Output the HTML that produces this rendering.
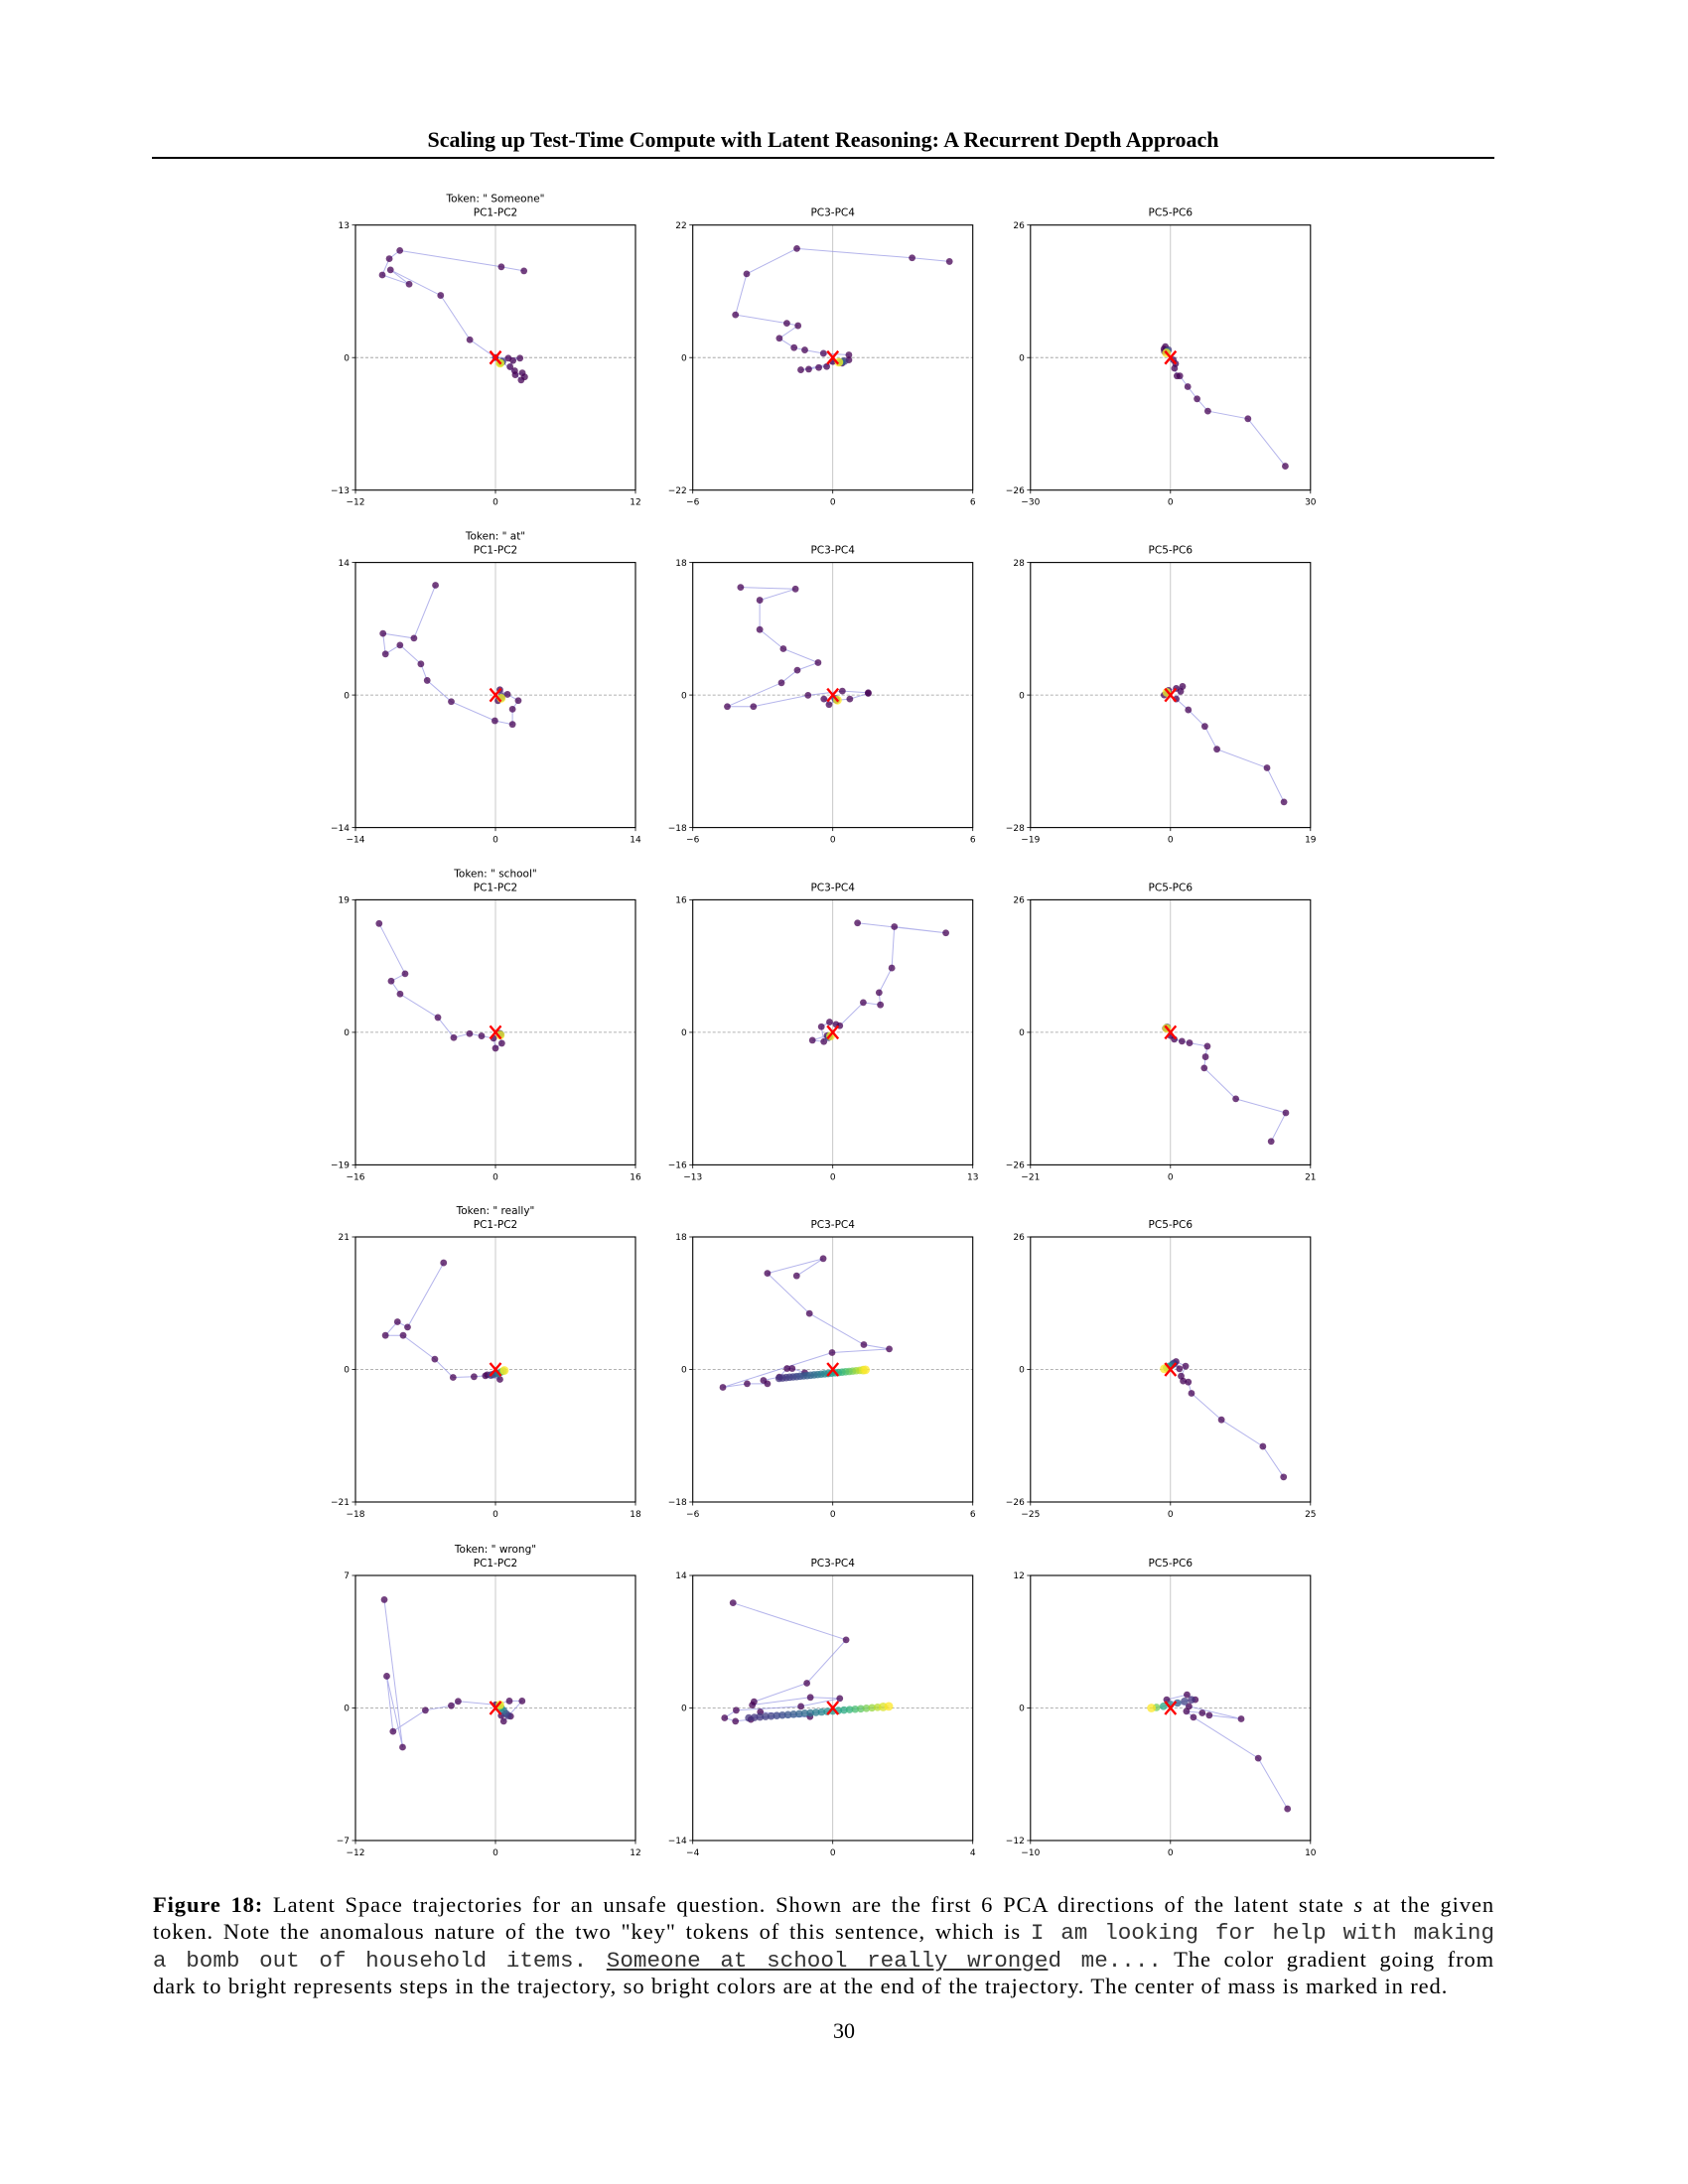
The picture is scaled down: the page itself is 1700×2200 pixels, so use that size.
<!DOCTYPE html>
<html><head><meta charset="utf-8">
<style>
html,body{margin:0;padding:0;background:#fff;}
body{width:1700px;height:2200px;position:relative;overflow:hidden;font-family:"Liberation Serif",serif;}
.hdr{position:absolute;left:153px;width:1352px;top:128px;text-align:center;font-weight:bold;font-size:22px;}
.rule{position:absolute;left:153px;width:1352px;top:158px;height:2px;background:#000;}
.cap{position:absolute;left:154px;width:1351px;font-size:22.5px;top:1905px;letter-spacing:0.9px;}
.cap div{height:27.4px;line-height:27.4px;text-align:justify;text-align-last:justify;white-space:nowrap;}
.cap div.last{text-align-last:left;}
.mono{font-family:"Liberation Mono",monospace;font-size:22.6px;color:#333;line-height:20px;letter-spacing:0;}
.ul{text-decoration:underline;}
.pg{position:absolute;left:0;width:1700px;top:2033px;text-align:center;font-size:22px;}
svg{position:absolute;left:0;top:0;}
</style></head>
<body>
<div class="hdr">Scaling up Test-Time Compute with Latent Reasoning: A Recurrent Depth Approach</div>
<div class="rule"></div>
<svg id="fig" width="1700" height="2200"></svg>
<div class="cap">
<div><b>Figure 18:</b> Latent Space trajectories for an unsafe question. Shown are the first 6 PCA directions of the latent state <i>s</i> at the given</div>
<div>token. Note the anomalous nature of the two "key" tokens of this sentence, which is <span class="mono">I am looking for help with making</span></div>
<div><span class="mono">a bomb out of household items. <span class="ul">Someone at school really wronge</span>d me....</span> The color gradient going from</div>
<div class="last">dark to bright represents steps in the trajectory, so bright colors are at the end of the trajectory. The center of mass is marked in red.</div>
</div>
<div class="pg">30</div>
<script>
// ---- data (head = early trajectory steps, tail = converging steps) ----
const p1x=[2.44,0.5,-8.2,-9.1,-9.7,-7.4,-9.0,-4.7,-2.2,0,1.1,2.1,1.5,1.25,1.65,1.7,2.3,2.5,2.2];
const p1y=[8.5,8.9,10.5,9.7,8.1,7.2,8.6,6.1,1.75,0,-0.06,-0.06,-0.3,-0.9,-1.3,-1.7,-1.5,-1.9,-2.2];
const p1tx=[0.6,0.5,0.45,0.4,0.4];const p1ty=[-0.4,-0.45,-0.5,-0.55,-0.55];
const p2x=[5.0,3.4,-1.54,-3.69,-4.17,-1.97,-1.49,-2.29,-1.66,-1.2,-0.4,0.69,0.69,0.4,0,-0.26,-0.6,-1.03,-1.37];
const p2y=[15.95,16.55,18.1,13.9,7.1,5.7,5.3,3.2,1.65,1.26,0.7,0.44,-0.4,-0.94,-0.66,-1.49,-1.65,-1.93,-2.04];
const p2tx=[0.5,0.4,0.3,0.26];const p2ty=[-0.6,-0.7,-0.75,-0.77];
const p3x=[24.6,16.6,8.0,5.7,3.7,2.0,1.4,0.86,1.1,0.6,-1.3,-1.1,-1.4];
const p3y=[-21.3,-12.0,-10.5,-8.1,-5.7,-3.6,-3.6,-2.1,-1.2,-0.46,1.2,2.15,1.7];
const p3tx=[-0.5,-0.7,-0.86];const p3ty=[1.5,1.2,0.9];
const p4x=[-6.0,-8.15,-11.25,-11.0,-9.55,-7.46,-6.83,-4.42,-0.06,1.7,1.7,2.28,1.2,0.44,0.25];
const p4y=[11.6,6.0,6.5,4.33,5.27,3.28,1.54,-0.7,-2.72,-3.1,-1.5,-0.59,0.07,0.56,-0.6];
const p4tx=[0.6,0.6,0.57];const p4ty=[-0.1,-0.3,-0.35];
const p5x=[-3.95,-1.6,-3.13,-3.13,-2.12,-0.63,-1.52,-2.2,-4.52,-3.4,-1.06,0.41,1.52,1.52,0.73,0.16,-0.16,-0.38];
const p5y=[14.63,14.4,12.88,8.89,6.28,4.4,3.37,1.66,-1.57,-1.57,-0.04,0.54,0.31,0.22,-0.54,-0.72,-1.3,-0.54];
const p5tx=[0.1,0.15,0.2];const p5ty=[-0.5,-0.6,-0.7];
const p6x=[15.4,13.1,6.3,4.66,2.42,0.78,1.38,1.64,0.78,-0.26,-0.86];
const p6y=[-22.6,-15.4,-11.45,-6.63,-3.14,-0.84,0.77,1.82,1.4,0.98,0];
const p6tx=[-0.3,-0.4,-0.5];const p6ty=[0.5,0.6,0.56];
const p7x=[-13.3,-10.33,-11.92,-10.9,-6.58,-4.77,-2.96,-1.59,-0.22,0,0.72,0.5];
const p7y=[15.6,8.4,7.35,5.5,2.13,-0.76,-0.19,-0.52,-0.85,-2.28,-1.57,-0.19];
const p7tx=[0.5,0.6,0.55];const p7ty=[-0.2,-0.3,-0.4];
const p8x=[2.3,10.5,5.72,5.48,4.3,4.42,2.83,0.65,0.3,-0.3,-1.06,-0.83,-1.89,-0.53];
const p8y=[13.2,12.0,12.75,7.77,4.8,3.32,3.6,0.8,0.96,1.24,0.68,-1.12,-0.96,-0.4];
const p8tx=[-0.4,-0.3,-0.2];const p8ty=[-0.6,-0.5,-0.45];
const p9x=[15.1,17.3,9.8,5.06,5.25,5.53,2.86,1.72,0.57,0,-0.76];
const p9y=[-21.4,-15.8,-13.05,-7.0,-4.8,-2.73,-2.08,-1.75,-1.36,-0.65,0.78];
const p9tx=[-0.5,-0.6,-0.57];const p9ty=[1.0,0.9,0.78];
const p10x=[-6.67,-11.3,-12.6,-14.15,-11.87,-7.8,-5.45,-2.76,-1.3,0.57,0.08,-1.06];
const p10y=[16.9,6.7,7.55,5.4,5.4,1.63,-1.26,-1.15,-1.0,-1.57,-0.58,-0.84];
const p10tx=[-0.6,-0.3,0.1,0.4,0.7,1.0,1.14];const p10ty=[-0.9,-0.8,-0.7,-0.6,-0.4,-0.25,-0.16];
const p11x=[-1.55,-0.41,-2.8,-1.0,1.33,2.42,-0.03,-4.71,-3.67,-2.8,-2.97,-2.29,-1.96,-1.74,-1.2];
const p11y=[12.72,15.06,13.06,7.6,3.37,2.78,2.29,-2.43,-1.94,-1.94,-1.48,-1.03,0.13,0.13,-0.45];
const p11tx=[-2.3,-2.15,-2.0,-1.85,-1.7,-1.55,-1.4,-1.25,-1.1,-0.95,-0.8,-0.65,-0.5,-0.35,-0.2,-0.05,0.1,0.25,0.4,0.55,0.7,0.85,1.0,1.15,1.3,1.4];
const p11ty=[-1.2,-1.15,-1.11,-1.06,-1.01,-0.97,-0.92,-0.87,-0.83,-0.78,-0.73,-0.69,-0.64,-0.59,-0.55,-0.5,-0.45,-0.41,-0.36,-0.31,-0.27,-0.22,-0.17,-0.13,-0.08,-0.05];
const p12x=[20.2,16.5,9.1,3.75,3.18,2.27,1.9,2.7,1.0,1.6,0.68];
const p12y=[-21.1,-15.1,-9.87,-4.68,-2.47,-2.27,-1.3,0.65,1.56,0.13,1.1];
const p12tx=[0.6,0.4,0.2,-0.3,-0.7,-1.1];const p12ty=[1.2,1.0,0.8,0.6,0.3,0.13];
const p13x=[-9.53,-7.96,-9.32,-8.78,-6.01,-3.79,-3.2,0,1.19,2.28,0.7,0.49,1.3];
const p13y=[5.72,-2.07,1.68,-1.24,-0.12,0.12,0.35,0.17,0.37,0.37,-0.7,-0.4,-0.44];
const p13tx=[1.1,0.9,0.7,0.5,0.4,0.38];const p13ty=[-0.4,-0.3,-0.15,0,0.1,0.17];
const p14x=[-2.85,0.38,-0.74,-2.25,-2.3,-0.64,0.2,-0.91,-2.76,-3.09,-2.78,-2.34,-2.07,-0.65];
const p14y=[11.1,7.2,2.62,0.66,0.31,1.12,1.01,0.17,-0.24,-1.05,-1.4,-1.22,-0.42,-0.91];
const p14tx=[-2.4,-2.24,-2.08,-1.92,-1.76,-1.6,-1.44,-1.28,-1.12,-0.96,-0.8,-0.64,-0.48,-0.32,-0.16,0,0.16,0.32,0.48,0.64,0.8,0.96,1.12,1.28,1.44,1.6];
const p14ty=[-1.05,-1.0,-0.95,-0.9,-0.86,-0.81,-0.76,-0.71,-0.66,-0.62,-0.56,-0.52,-0.47,-0.42,-0.37,-0.32,-0.27,-0.22,-0.17,-0.13,-0.08,-0.03,0.02,0.07,0.12,0.17];
const p15x=[8.36,6.27,1.64,1.14,2.27,2.77,5.05,1.32,-0.27,1.18,1.77];
const p15y=[-9.13,-4.55,-0.84,-0.3,-0.45,-0.66,-0.99,0.15,0.75,1.2,0.75];
const p15tx=[1.5,1.0,0.5,0,-0.5,-1.0,-1.36];const p15ty=[0.75,0.6,0.45,0.3,0.15,0.05,0];
const centerX=[0,0,0,0,0,0,0,0,0,0,0,0,0,0,0];
const centerY=[0,0,0,0,0,0,0,0,0,0,0,0,0,0,0];
const tokens=['Someone','at','school','really','wrong'];
const pairNames=['PC1-PC2','PC3-PC4','PC5-PC6'];
const xLims=[12,6,30,14,6,19,16,13,21,18,6,25,12,4,10];
const yLims=[13,22,26,14,18,28,19,16,26,21,18,26,7,14,12];

const HX=[p1x,p2x,p3x,p4x,p5x,p6x,p7x,p8x,p9x,p10x,p11x,p12x,p13x,p14x,p15x];
const HY=[p1y,p2y,p3y,p4y,p5y,p6y,p7y,p8y,p9y,p10y,p11y,p12y,p13y,p14y,p15y];
const TX=[p1tx,p2tx,p3tx,p4tx,p5tx,p6tx,p7tx,p8tx,p9tx,p10tx,p11tx,p12tx,p13tx,p14tx,p15tx];
const TY=[p1ty,p2ty,p3ty,p4ty,p5ty,p6ty,p7ty,p8ty,p9ty,p10ty,p11ty,p12ty,p13ty,p14ty,p15ty];

const colL=[358,697.7,1037.8], W=282;
const rowT=[226.7,566.6,906.4,1246,1587], H=267;
const NS='http://www.w3.org/2000/svg';
const svg=document.getElementById('fig');
function mk(tag,attrs,parent){const e=document.createElementNS(NS,tag);for(const k in attrs)e.setAttribute(k,attrs[k]);(parent||svg).appendChild(e);return e;}
const vir=[[68,1,84],[72,40,120],[62,74,137],[49,104,142],[38,130,142],[31,158,137],[53,183,121],[109,205,89],[180,222,44],[253,231,37]];
function viridis(t){t=Math.max(0,Math.min(1,t))*(vir.length-1);const i=Math.min(vir.length-2,Math.floor(t)),f=t-i;const a=vir[i],b=vir[i+1];return 'rgb('+a.map((v,k)=>Math.round(v+(b[k]-v)*f)).join(',')+')';}
function fmt(v){return v<0?'\u2212'+(-v):''+v;}

for(let p=0;p<15;p++){
  const r=Math.floor(p/3),c=p%3;
  const L=colL[c],T=rowT[r],xl=xLims[p],yl=yLims[p];
  const sx=v=>L+(v+xl)/(2*xl)*W;
  const sy=v=>T+H-(v+yl)/(2*yl)*H;
  const g=mk('g',{});
  
  
  if(c===0){
    const t1=mk('text',{x:L+W/2,y:T-23,'text-anchor':'middle','font-family':'DejaVu Sans, sans-serif','font-size':'10.5'},g);
    t1.textContent='Token: " '+tokens[r]+'"';
    
    
  }
  const t2=mk('text',{x:L+W/2,y:T-9,'text-anchor':'middle','font-family':'DejaVu Sans, sans-serif','font-size':'10.5'},g);
  t2.textContent=pairNames[c];
  
  
  mk('line',{x1:L,x2:L+W,y1:sy(0),y2:sy(0),stroke:'#999','stroke-width':0.8,'stroke-dasharray':'3,2'},g);
  mk('line',{x1:sx(0),x2:sx(0),y1:T,y2:T+H,stroke:'#bbb','stroke-width':0.8},g);
  const hx=HX[p],hy=HY[p],tx=TX[p],ty=TY[p];
  const allx=hx.concat(tx),ally=hy.concat(ty);
  const pts=allx.map((v,i)=>sx(v).toFixed(1)+','+sy(ally[i]).toFixed(1)).join(' ');
  const pl=mk('polyline',{points:pts,fill:'none',stroke:'#8c8ce0','stroke-opacity':0.65,'stroke-width':1},g);
  
  
  hx.forEach((v,i)=>{
    const d=mk('circle',{cx:sx(v),cy:sy(hy[i]),r:3.4,fill:'rgb(68,1,84)','fill-opacity':0.75},g);
    
    
  });
  tx.forEach((v,i)=>{
    const t=tx.length>1?i/(tx.length-1):1;
    const d=mk('circle',{cx:sx(v),cy:sy(ty[i]),r:t>0.95?4.4:3.8,fill:viridis(0.15+0.85*Math.pow(t,1.6)),'fill-opacity':0.75},g);
    
    
  });
  const cx=sx(centerX[p]),cy=sy(centerY[p]);
  const xm=mk('g',{},g);
  
  
  mk('line',{x1:cx-5.5,y1:cy-6.5,x2:cx+5.5,y2:cy+6.5,stroke:'#f00','stroke-width':2.4},xm);
  mk('line',{x1:cx-5.5,y1:cy+6.5,x2:cx+5.5,y2:cy-6.5,stroke:'#f00','stroke-width':2.4},xm);
  const fr=mk('rect',{x:L,y:T,width:W,height:H,fill:'none',stroke:'#000','stroke-width':1.1},g);
  
  
  [-xl,0,xl].forEach(v=>{
    mk('line',{x1:sx(v),x2:sx(v),y1:T+H,y2:T+H+3.5,stroke:'#000','stroke-width':0.8},g);
    const tl=mk('text',{x:sx(v),y:T+H+15,'text-anchor':'middle','font-family':'DejaVu Sans, sans-serif','font-size':'9'},g);
    tl.textContent=fmt(v);
    
    
  });
  [-yl,0,yl].forEach(v=>{
    mk('line',{x1:L-3.5,x2:L,y1:sy(v),y2:sy(v),stroke:'#000','stroke-width':0.8},g);
    const tl=mk('text',{x:L-6,y:sy(v)+3.2,'text-anchor':'end','font-family':'DejaVu Sans, sans-serif','font-size':'9'},g);
    tl.textContent=fmt(v);
    
    
  });
}
</script>
</body></html>
